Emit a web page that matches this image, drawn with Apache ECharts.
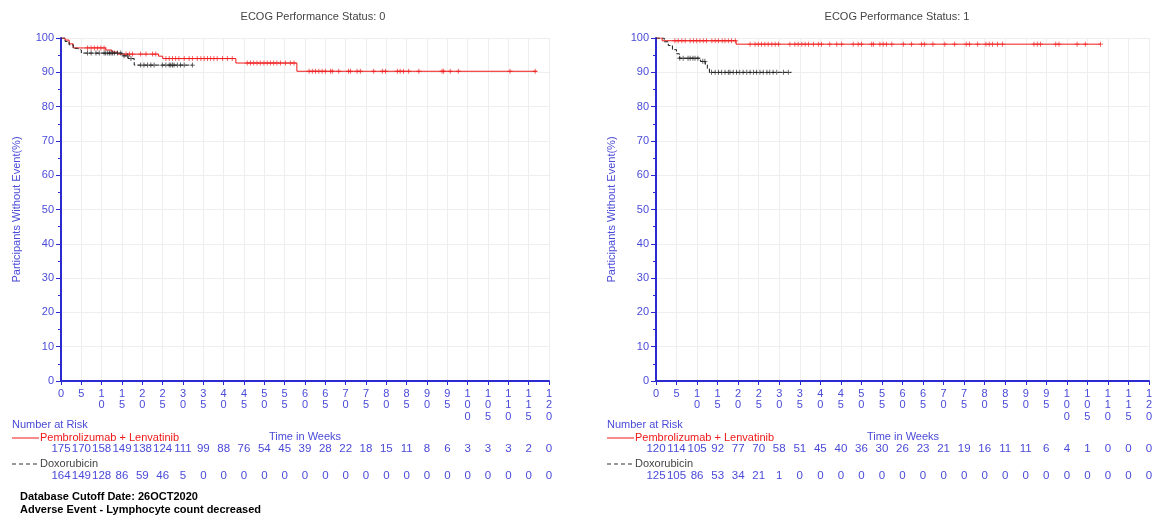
<!DOCTYPE html>
<html><head><meta charset="utf-8">
<script src="https://cdn.jsdelivr.net/npm/echarts@6/dist/echarts.min.js"></script>
<style>html,body{margin:0;padding:0;background:#fff}#c{width:1158px;height:519px}</style>
</head><body><div id="c"></div>
<script>
// ---- data ----
const tickWeeks = [0,5,10,15,20,25,30,35,40,45,50,55,60,65,70,75,80,85,90,95,100,105,110,115,120];
const riskPembroL = [175,170,158,149,138,124,111,99,88,76,54,45,39,28,22,18,15,11,8,6,3,3,3,2,0];
const riskDoxoL   = [164,149,128,86,59,46,5,0,0,0,0,0,0,0,0,0,0,0,0,0,0,0,0,0,0];
const riskPembroR = [120,114,105,92,77,70,58,51,45,40,36,30,26,23,21,19,16,11,11,6,4,1,0,0,0];
const riskDoxoR   = [125,105,86,53,34,21,1,0,0,0,0,0,0,0,0,0,0,0,0,0,0,0,0,0,0];

const kmPembroL = [[0,100],[1,99.4],[2,98.3],[3,97.1],[11,96.5],[12.5,95.9],[14,95.3],[24,94.7],[25,94.0],[43,92.7],[58,90.3],[117,90.3]];
const kmDoxoL   = [[0,100],[1,99],[2,98],[3,97],[4,96.5],[5,95.6],[15,94.8],[16.5,94],[18,92.1],[32.3,92.1]];
const kmPembroR = [[0,100],[1.5,99.2],[19.5,98.2],[108.2,98.2]];
const kmDoxoR   = [[0,100],[2,98.9],[3,97.8],[4,96.6],[5,95.4],[5.7,94.1],[10.8,93.2],[12,92.2],[12.5,91.1],[13,90.0],[33,90.0]];

const censPembroL = [6.5,7.4,8.2,9,9.8,10.6,16,16.8,17.6,19.6,20.9,22.5,23.3,25.8,26.6,27.4,28.2,29,30.3,31.5,32.3,33.5,34.4,35.2,36,36.8,37.6,38.4,39.7,40.9,42.1,45.8,46.6,47.4,48.2,49,49.9,50.7,51.5,52.3,53.1,54,55.2,56.4,57.3,61,61.8,62.6,63.4,64.2,65,66.3,66.7,68.3,70.7,71.2,72.8,73.6,76.9,79,79.8,82.7,83.4,84.2,85.5,88,93.7,94.1,95.7,97.7,110.4,116.6];
const censDoxoL = [6.5,7.4,8.6,9.4,10.6,11,11.5,11.9,12.3,12.7,13.1,13.9,14.7,15.5,16.4,17.2,19.6,20.4,21.3,22.1,22.9,24.9,25.8,26.6,27,27.4,27.8,28.6,29.4,30.3,32.3];
const censPembroR = [4.6,5.4,6.3,7.1,8.3,9.1,9.9,10.7,11.5,12.3,13.6,14.4,15.2,16.1,16.8,17.6,18.4,19.3,22.9,24.1,24.9,25.7,26.5,27.3,28.2,29,29.8,32.6,33.8,34.6,35.5,36.3,37.1,38.3,39.5,40.3,42.3,44,45.2,48,49.2,50,52.5,52.9,54.5,55.3,56.1,57.4,60.2,62.2,64.6,65.4,67.4,70.3,72.7,75.5,76.3,78.3,80.3,81.1,81.9,83.1,84.3,92,92.8,93.6,97.3,98.1,102.5,104.5,108.2];
const censDoxoR = [5.8,6.6,7.8,8.3,9,9.5,10.2,11.4,11.9,13.5,14.4,15.2,16,16.8,17.6,18,18.8,19.6,20.4,21.2,22.1,22.9,23.7,24.5,25.3,26.1,27,27.7,28.5,29.4,31,32.2];

const titles = ['ECOG Performance Status: 0','ECOG Performance Status: 1'];
const yName = 'Participants Without Event(%)';
const armNames = ['Pembrolizumab + Lenvatinib','Doxorubicin'];

// ---- build ----
const FONT = 'Liberation Sans, Arial, sans-serif';
const BLUE = '#4a4ad8';
const AXIS = '#2a2ad0';
const RED = '#f01818';
const BLK = '#1a1a1a';

function levelAt(km, t){ let s = km[0][1]; for (const p of km){ if (p[0] <= t) s = p[1]; } return s; }
const plusSym = 'path://M-0.5,-3h1v2.5h2.5v1h-2.5v2.5h-1v-2.5h-2.5v-1h2.5z';

const grids = [
  {left:61, width:488, top:38, height:343},
  {left:656, width:493, top:38, height:343}
];

const xAxes = [], yAxes = [], series = [];
const risks = [[riskPembroL, riskDoxoL],[riskPembroR, riskDoxoR]];
const kms = [[kmPembroL, kmDoxoL],[kmPembroR, kmDoxoR]];
const cens = [[censPembroL, censDoxoL],[censPembroR, censDoxoR]];

for (let g = 0; g < 2; g++){
  xAxes.push({
    type:'value', gridIndex:g, min:0, max:120, interval:5, position:'bottom',
    axisLine:{show:true, onZero:false, lineStyle:{color:AXIS, width:2}},
    axisTick:{show:true, length:4, lineStyle:{color:AXIS}},
    splitLine:{show:true, lineStyle:{color:'#eeeeee'}},
    axisLabel:{color:BLUE, fontFamily:FONT, fontSize:11, lineHeight:11.5, margin:7,
      formatter:v => String(v).split('').join('\n')}
  });
  [62, 89].forEach((off, k) => {
    const arr = risks[g][k];
    xAxes.push({
      type:'value', gridIndex:g, min:0, max:120, interval:5, position:'bottom', offset:off,
      axisLine:{show:false}, axisTick:{show:false}, splitLine:{show:false},
      axisLabel:{color:BLUE, fontFamily:FONT, fontSize:11.5, margin:0,
        formatter:v => { const i = tickWeeks.indexOf(v); return i >= 0 ? String(arr[i]) : ''; }}
    });
  });
  yAxes.push({
    type:'value', gridIndex:g, min:0, max:100, interval:10,
    name:yName, nameLocation:'middle', nameGap:39, nameRotate:90,
    nameTextStyle:{color:BLUE, fontFamily:FONT, fontSize:11},
    axisLine:{show:true, lineStyle:{color:AXIS, width:2}},
    axisTick:{show:true, length:5, lineStyle:{color:AXIS}},
    minorTick:{show:true, splitNumber:2, length:3, lineStyle:{color:AXIS}},
    splitLine:{show:true, lineStyle:{color:'#eeeeee'}},
    axisLabel:{color:BLUE, fontFamily:FONT, fontSize:11, margin:7}
  });
  const xi = g*3;
  [0,1].forEach(k => {
    const col = k === 0 ? RED : BLK;
    series.push({
      type:'line', xAxisIndex:xi, yAxisIndex:g, step:'end', data:kms[g][k],
      showSymbol:false, symbol:'none', silent:true, z:3,
      lineStyle:{color:col, width:1, type: k === 0 ? 'solid' : [4,2]}
    });
    series.push({
      type:'scatter', xAxisIndex:xi, yAxisIndex:g, symbol:plusSym, symbolSize:5, silent:true, z:4,
      itemStyle:{color:col},
      data:cens[g][k].map(t => [t, levelAt(kms[g][k], t)])
    });
  });
}

function txt(x, y, s, color){
  return {type:'text', x:x, y:y, silent:true,
    style:{text:s, fill:color, font:'11px ' + FONT, verticalAlign:'middle'}};
}
const graphic = [];
[[12, 305], [607, 903]].forEach(([lx, cx]) => {
  graphic.push(txt(lx, 425, 'Number at Risk', BLUE));
  graphic.push({type:'line', silent:true, shape:{x1:lx, y1:438, x2:lx+27, y2:438}, style:{stroke:RED, lineWidth:1}});
  graphic.push(txt(lx+28, 438, armNames[0], RED));
  const t = txt(cx, 437, 'Time in Weeks', BLUE);
  t.style.align = 'center';
  graphic.push(t);
  graphic.push({type:'line', silent:true, shape:{x1:lx, y1:464, x2:lx+27, y2:464}, style:{stroke:'#333', lineWidth:1, lineDash:[4,3]}});
  graphic.push(txt(lx+28, 464, armNames[1], '#444'));
});
graphic.push({type:'text', x:20, y:497, silent:true, style:{text:'Database Cutoff Date: 26OCT2020', fill:'#000', font:'bold 11px ' + FONT, verticalAlign:'middle'}});
graphic.push({type:'text', x:20, y:510, silent:true, style:{text:'Adverse Event - Lymphocyte count decreased', fill:'#000', font:'bold 11px ' + FONT, verticalAlign:'middle'}});

const chart = echarts.init(document.getElementById('c'), null, {renderer:'canvas'});
chart.setOption({
  animation:false,
  backgroundColor:'#fff',
  title:[
    {text:titles[0], left:308, top:6, textAlign:'center', textStyle:{fontFamily:FONT, fontSize:11, fontWeight:'normal', color:'#444'}},
    {text:titles[1], left:892, top:6, textAlign:'center', textStyle:{fontFamily:FONT, fontSize:11, fontWeight:'normal', color:'#444'}}
  ],
  grid:grids,
  xAxis:xAxes,
  yAxis:yAxes,
  series:series,
  graphic:graphic
});
</script></body></html>
